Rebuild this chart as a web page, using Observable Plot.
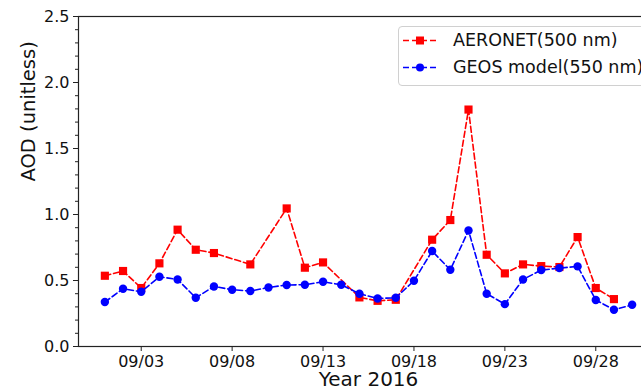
<!DOCTYPE html>
<html>
<head>
<meta charset="utf-8">
<script src="https://cdn.jsdelivr.net/npm/d3@7"></script>
<script src="https://cdn.jsdelivr.net/npm/@observablehq/plot@0.6"></script>
<style>
  html, body { margin: 0; padding: 0; background: #fff; overflow: hidden; }
  #wrap { position: relative; width: 641px; height: 392px; overflow: hidden; font-family: "DejaVu Sans", sans-serif; }
  #chart svg { max-width: none !important; display: block; }
  #legend { position: absolute; left: 398px; top: 26px; width: 270px; height: 58px; border: 1px solid #d0d0d0; border-radius: 4px; background: rgba(255,255,255,0.85); }
  .row { position: absolute; left: 4px; display: flex; align-items: center; font-size: 17.5px; color: #111; white-space: nowrap; }
  .row svg { margin-right: 16px; }
</style>
</head>
<body>
<div id="wrap"><div id="chart"></div><div id="legend"></div></div>
<script>
// Days of September 2016
const days = [1,2,3,4,5,6,7,8,9,10,11,12,13,14,15,16,17,18,19,20,21,22,23,24,25,26,27,28,29,30];
// AERONET AOD at 500 nm (null = no observation)
const aeronet = [0.536,0.572,0.443,0.63,0.885,0.733,0.708,null,0.622,null,1.046,0.597,0.637,null,0.372,0.346,0.354,null,0.809,0.958,1.795,0.695,0.554,0.622,0.609,0.602,0.829,0.443,0.359,null];
// GEOS model AOD at 550 nm
const geos = [0.337,0.437,0.415,0.528,0.508,0.369,0.455,0.43,0.42,0.447,0.466,0.468,0.49,0.468,0.40,0.364,0.369,0.498,0.723,0.581,0.879,0.40,0.321,0.508,0.579,0.594,0.607,0.352,0.278,0.316];
const seriesNames = ["AERONET(500 nm)", "GEOS model(550 nm)"];
const seriesColors = ["#ff0000", "#0000ff"];
const xTickDays = [3,8,13,18,23,28];
const yTicks = [0,0.5,1.0,1.5,2.0,2.5];
const yMinorTicks = [0,0.1,0.2,0.3,0.4,0.5,0.6,0.7,0.8,0.9,1.0,1.1,1.2,1.3,1.4,1.5,1.6,1.7,1.8,1.9,2.0,2.1,2.2,2.3,2.4,2.5];
const yLabel = "AOD (unitless)";
const xLabel = "Year 2016";

const date = d => new Date(Date.UTC(2016, 8, 1) + (d - 1) * 864e5);
const aerData = days.map((d, i) => ({date: date(d), v: aeronet[i]})).filter(r => r.v != null);
const geosData = days.map((d, i) => ({date: date(d), v: geos[i]}));
const pad = 29 * 0.05;

const chart = Plot.plot({
  width: 680, height: 392,
  marginLeft: 78, marginRight: 22, marginTop: 16, marginBottom: 46,
  style: {fontFamily: "DejaVu Sans, sans-serif", color: "#111", background: "white", maxWidth: "none"},
  x: {type: "utc", domain: [date(1 - pad), date(30 + pad)]},
  y: {domain: [0, 2.5]},
  marks: [
    Plot.frame({stroke: "#222", strokeWidth: 1.2}),
    Plot.axisY({ticks: yMinorTicks, tickSize: 3, tickFormat: () => "", label: null, stroke: "#222"}),
    Plot.axisY({ticks: yTicks, tickSize: 5, tickFormat: d3.format(".1f"), fontSize: 16, tickPadding: 4, label: null, stroke: "#222"}),
    Plot.axisX({ticks: xTickDays.map(date), tickSize: 5, tickFormat: d3.utcFormat("%m/%d"), fontSize: 16, tickPadding: 4, label: null, stroke: "#222"}),
    Plot.text([yLabel], {frameAnchor: "left", dx: -50, rotate: -90, fontSize: 19.5, text: d => d, fill: "#111"}),
    Plot.text([xLabel], {frameAnchor: "bottom", dy: 39, fontSize: 20, text: d => d, fill: "#111"}),
    Plot.line(aerData, {x: "date", y: "v", stroke: seriesColors[0], strokeWidth: 1.6, strokeDasharray: "6,3"}),
    Plot.dot(aerData, {x: "date", y: "v", symbol: "square", r: 4.6, fill: seriesColors[0], stroke: "none"}),
    Plot.line(geosData, {x: "date", y: "v", stroke: seriesColors[1], strokeWidth: 1.6, strokeDasharray: "6,3"}),
    Plot.dot(geosData, {x: "date", y: "v", symbol: "circle", r: 4.2, fill: seriesColors[1], stroke: "none"})
  ]
});
document.getElementById("chart").appendChild(chart);

// Legend
const legend = document.getElementById("legend");
seriesNames.forEach((name, i) => {
  const row = document.createElement("div");
  row.className = "row";
  row.style.top = (i === 0 ? 3 : 30) + "px";
  const marker = i === 0
    ? `<rect x="13" y="3.5" width="8" height="8" fill="${seriesColors[i]}"/>`
    : `<circle cx="17" cy="7.5" r="4" fill="${seriesColors[i]}"/>`;
  row.innerHTML = `<svg width="34" height="15"><line x1="0" x2="34" y1="7.5" y2="7.5" stroke="${seriesColors[i]}" stroke-width="1.6" stroke-dasharray="6,3"/>${marker}</svg><span>${name}</span>`;
  legend.appendChild(row);
});
</script>
</body>
</html>
